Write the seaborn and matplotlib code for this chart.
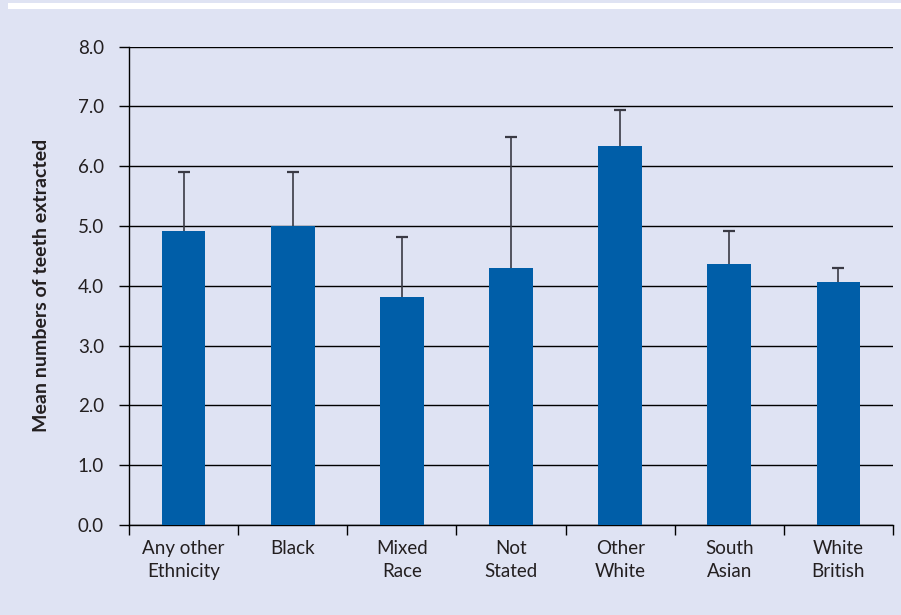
import matplotlib
matplotlib.use("Agg")
import matplotlib.pyplot as plt
import seaborn as sns
import numpy as np
import pandas as pd
from matplotlib.patches import Rectangle

categories = ["Any other\nEthnicity", "Black", "Mixed\nRace", "Not\nStated",
              "Other\nWhite", "South\nAsian", "White\nBritish"]
means = [4.91, 5.00, 3.81, 4.29, 6.33, 4.37, 4.07]
upper = [5.91, 5.91, 4.81, 6.49, 6.93, 4.92, 4.30]
yticks = [0.0, 1.0, 2.0, 3.0, 4.0, 5.0, 6.0, 7.0, 8.0]

BG = "#dfe3f3"
BAR = "#005ea8"
TXT = "#231f20"
ERR = "#3a3a44"
FONT = ["Lato", "DejaVu Sans"]

sns.set_style("white")
plt.rcParams["font.family"] = FONT
plt.rcParams["text.color"] = TXT
plt.rcParams["xtick.color"] = TXT
plt.rcParams["ytick.color"] = TXT
plt.rcParams["axes.labelcolor"] = TXT

fig = plt.figure(figsize=(9.01, 6.15), dpi=100, facecolor=BG)
fig.patches.append(Rectangle((8/901, 1 - 9/615), 1, 6/615, transform=fig.transFigure,
                             facecolor="white", edgecolor="none", zorder=0))
ax = fig.add_axes([129/901, 1 - 525/615, (893-129)/901, (525-46.5)/615])
ax.set_facecolor(BG)

df = pd.DataFrame({"cat": categories, "mean": means})
sns.barplot(data=df, x="cat", y="mean", color=BAR, width=0.40, saturation=1,
            errorbar=None, ax=ax, zorder=3, edgecolor="none", linewidth=0)
x = np.arange(len(categories))
err = np.array(upper) - np.array(means)
ax.errorbar(x, means, yerr=[np.zeros_like(err), err], fmt="none", ecolor=ERR,
            elinewidth=1.2, capsize=0, zorder=2)
ax.scatter(x, upper, marker="_", s=80, linewidths=1.6, color=ERR, zorder=2)

ax.set_ylim(0, 8)
ax.set_xlim(-0.5, len(categories) - 0.5)
ax.set_yticks(yticks)
ax.set_yticklabels([f"{v:.1f}" for v in yticks])
ax.yaxis.grid(True, color="black", linewidth=1.0)
ax.set_axisbelow(True)
for s in ["top", "right"]:
    ax.spines[s].set_visible(False)
for s in ["left", "bottom"]:
    ax.spines[s].set_color("black")
    ax.spines[s].set_linewidth(1.0)
ax.tick_params(axis="y", length=7, width=1, color="black", labelsize=13.5, pad=11, left=True)
ax.tick_params(axis="x", which="major", length=0, labelsize=13.5, pad=11)
for lbl in ax.get_xticklabels():
    lbl.set_linespacing(1.4)
ax.set_xticks(np.arange(len(categories) + 1) - 0.5, minor=True)
ax.tick_params(axis="x", which="minor", length=7, width=1, color="black", bottom=True)
ax.set_xlabel("")
ax.set_ylabel("Mean numbers of teeth extracted", fontsize=14, fontweight="bold", labelpad=20)

fig.savefig("out.png", dpi=100, facecolor=BG)
